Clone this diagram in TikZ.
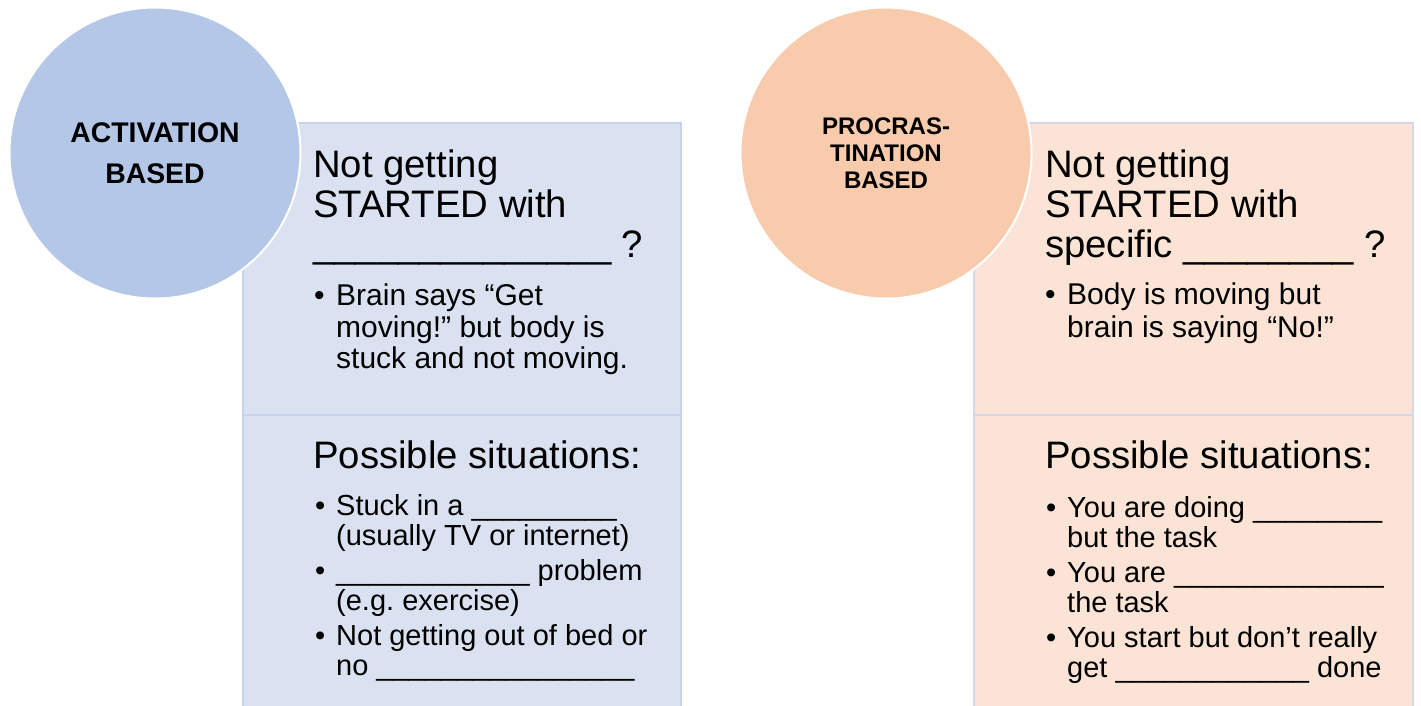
\documentclass[tikz,border=0pt]{standalone}
\usepackage{fontspec}
\setmainfont{Liberation Sans}
\frenchspacing

\definecolor{actCircle}{HTML}{B4C7E7}
\definecolor{actPanel}{HTML}{DAE1F0}
\definecolor{actEdge}{HTML}{C8D3EA}
\definecolor{proCircle}{HTML}{F8CBAD}
\definecolor{proPanel}{HTML}{FBE4D6}
\definecolor{proEdge}{HTML}{D3D6EC}

\begin{document}
\begin{tikzpicture}[x=1pt,y=-1pt,
  badge/.style={circle, minimum size=291pt, inner sep=0pt, draw=white,
    line width=2pt, align=center},
  head/.style={anchor=base west, inner sep=0pt, font=\fontsize{38.3}{40}\selectfont},
  item/.style={anchor=base west, inner sep=0pt, font=\fontsize{30}{32}\selectfont},
  smallitem/.style={anchor=base west, inner sep=0pt, font=\fontsize{29}{31}\selectfont},
  dot/.style={item}
]
\useasboundingbox (0,0) rectangle (1421,705);

% ---------- panels ----------
\begin{scope}
  \clip (0,0) rectangle (1421,705);
  \draw[fill=actPanel, draw=actEdge, line width=1.5pt] (243,123) rectangle (681,720);
  \draw[actEdge, line width=1.5pt] (243,415) -- (681,415);
  \draw[fill=proPanel, draw=proEdge, line width=1.5pt] (974,123) rectangle (1413,720);
  \draw[proEdge, line width=1.5pt] (974,415) -- (1413,415);
\end{scope}

% ---------- circles ----------
\node[badge, fill=actCircle, font=\bfseries\fontsize{28.4}{41}\selectfont]
  (act) at (155,153) {ACTIVATION\\BASED};
\node[badge, fill=proCircle, font=\bfseries\fontsize{24}{27}\selectfont]
  (pro) at (886,153) {PROCRAS-\\TINATION\\BASED};

% ---------- activation panel: upper ----------
\node[head] (a1) at (313,177) {Not getting};
\node[head] (a2) at (313,217) {STARTED with};
\node[head] (a3) at (313,257) {\_\_\_\_\_\_\_\_\_\_\_\_\_\_ ?};
\node[dot]  (ab1) at (314,305) {•};
\node[item] (a4) at (336,305) {Brain says “Get};
\node[item] (a5) at (336,337) {moving!” but body is};
\node[item] (a6) at (336,368) {stuck and not moving.};

% ---------- activation panel: lower ----------
\node[head] (a7) at (313,468) {Possible situations:};
\node[smallitem] (ab2) at (315,515) {•};
\node[smallitem] (a8) at (336,515) {Stuck in a \_\_\_\_\_\_\_\_\_};
\node[smallitem] (a9) at (336,545) {(usually TV or internet)};
\node[smallitem] (ab3) at (315,580) {•};
\node[smallitem] (a10) at (336,580) {\_\_\_\_\_\_\_\_\_\_\_\_ problem};
\node[smallitem] (a11) at (336,610) {(e.g. exercise)};
\node[smallitem] (ab4) at (315,645) {•};
\node[smallitem] (a12) at (336,645) {Not getting out of bed or};
\node[smallitem] (a13) at (336,675) {no \_\_\_\_\_\_\_\_\_\_\_\_\_\_\_\_};

% ---------- procrastination panel: upper ----------
\node[head] (p1) at (1045,177) {Not getting};
\node[head] (p2) at (1045,217) {STARTED with};
\node[head] (p3) at (1045,257) {specific \_\_\_\_\_\_\_\_ ?};
\node[dot]  (pb1) at (1045,304) {•};
\node[item] (p4) at (1067,304) {Body is moving but};
\node[item] (p5) at (1067,337) {brain is saying “No!”};

% ---------- procrastination panel: lower ----------
\node[head] (p6) at (1045,468) {Possible situations:};
\node[smallitem] (pb2) at (1046,517) {•};
\node[smallitem] (p7) at (1067,517) {You are doing \_\_\_\_\_\_\_\_};
\node[smallitem] (p8) at (1067,547) {but the task};
\node[smallitem] (pb3) at (1046,582) {•};
\node[smallitem] (p9) at (1067,582) {You are \_\_\_\_\_\_\_\_\_\_\_\_\_};
\node[smallitem] (p10) at (1067,612) {the task};
\node[smallitem] (pb4) at (1046,647) {•};
\node[smallitem] (p11) at (1067,647) {You start but don’t really};
\node[smallitem] (p12) at (1067,677) {get \_\_\_\_\_\_\_\_\_\_\_\_ done};
\end{tikzpicture}
\end{document}
